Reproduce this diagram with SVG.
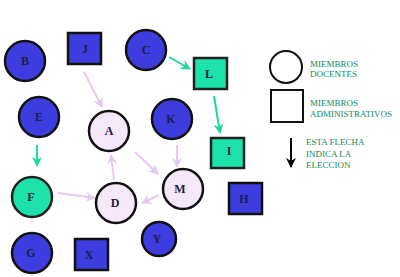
<svg xmlns="http://www.w3.org/2000/svg" width="400" height="277" viewBox="0 0 400 277">
<defs>
<style>
.blue{fill:#3d3ddf;stroke:#111;stroke-width:2.5}
.teal{fill:#1de3aa;stroke:#222;stroke-width:2.5}
.pale{fill:#f5e8f8;stroke:#111;stroke-width:2.5}
.lbl{font-family:"Liberation Serif",serif;font-weight:bold;font-size:12px;fill:#1c1c4a;text-anchor:middle}
.leg{font-family:"Liberation Serif",serif;font-size:9px;fill:#0f8a5a}
.pk{stroke:#e6c8f2;stroke-width:2;fill:none;marker-end:url(#mp)}
.gr{stroke:#20d89a;stroke-width:2;fill:none;marker-end:url(#mg)}
</style>
<marker id="mp" viewBox="0 0 10 10" refX="9" refY="5" markerWidth="5" markerHeight="5" orient="auto" markerUnits="strokeWidth">
<path d="M0,0 L10,5 L0,10 L3,5 z" fill="#e6c8f2"/>
</marker>
<marker id="mg" viewBox="0 0 10 10" refX="9" refY="5" markerWidth="5" markerHeight="5" orient="auto" markerUnits="strokeWidth">
<path d="M0,0 L10,5 L0,10 L3,5 z" fill="#20d89a"/>
</marker>
<marker id="mk" viewBox="0 0 10 10" refX="9" refY="5" markerWidth="5" markerHeight="5" orient="auto" markerUnits="strokeWidth">
<path d="M0,0 L10,5 L0,10 L3,5 z" fill="#000"/>
</marker>
</defs>
<rect width="400" height="277" fill="#fff"/>
<g id="connectors">
<line class="pk" x1="84" y1="72" x2="102" y2="107"/>
<line class="gr" x1="169" y1="57" x2="190" y2="69"/>
<line class="gr" x1="214" y1="96" x2="220" y2="133"/>
<line class="gr" x1="37" y1="145" x2="37" y2="166"/>
<line class="pk" x1="114" y1="180" x2="111" y2="155"/>
<line class="pk" x1="135" y1="152" x2="158" y2="174"/>
<line class="pk" x1="177" y1="145" x2="177" y2="167"/>
<line class="pk" x1="159" y1="195" x2="142" y2="203"/>
<line class="pk" x1="58" y1="193" x2="95" y2="198"/>
</g>
<g id="node-B"><circle class="blue" cx="25" cy="61" r="20"/><text class="lbl" x="25" y="65">B</text></g>
<g id="node-J"><rect class="blue" x="68" y="33" width="33" height="31"/><text class="lbl" x="85" y="53">J</text></g>
<g id="node-C"><circle class="blue" cx="146" cy="50" r="20"/><text class="lbl" x="146" y="54">C</text></g>
<g id="node-L"><rect class="teal" x="194" y="58" width="33" height="31"/><text class="lbl" x="209" y="78">L</text></g>
<g id="node-E"><circle class="blue" cx="39" cy="117" r="20"/><text class="lbl" x="39" y="121">E</text></g>
<g id="node-A"><circle class="pale" cx="109" cy="131" r="20"/><text class="lbl" x="109" y="135">A</text></g>
<g id="node-K"><circle class="blue" cx="172" cy="119" r="20"/><text class="lbl" x="171" y="123">K</text></g>
<g id="node-I"><rect class="teal" x="211" y="138" width="33" height="30"/><text class="lbl" x="229" y="155">I</text></g>
<g id="node-F"><circle class="teal" cx="32" cy="197" r="20"/><text class="lbl" x="31" y="201">F</text></g>
<g id="node-D"><circle class="pale" cx="116" cy="203" r="20"/><text class="lbl" x="115" y="207">D</text></g>
<g id="node-M"><circle class="pale" cx="183" cy="189" r="20"/><text class="lbl" x="180" y="193">M</text></g>
<g id="node-H"><rect class="blue" x="229" y="183" width="33" height="31"/><text class="lbl" x="244" y="203">H</text></g>
<g id="node-G"><circle class="blue" cx="32" cy="253" r="20"/><text class="lbl" x="31" y="257">G</text></g>
<g id="node-X"><rect class="blue" x="75" y="239" width="33" height="31"/><text class="lbl" x="89" y="259">X</text></g>
<g id="node-Y"><circle class="blue" cx="159" cy="239" r="17"/><text class="lbl" x="157" y="243">Y</text></g>
<g id="legend">
<circle cx="286" cy="67" r="16" fill="#fff" stroke="#111" stroke-width="2"/>
<text class="leg" x="310" y="67">MIEMBROS</text>
<text class="leg" x="310" y="77">DOCENTES</text>
<rect x="271" y="90" width="32" height="32" fill="#fff" stroke="#111" stroke-width="2"/>
<text class="leg" x="310" y="106">MIEMBROS</text>
<text class="leg" x="310" y="117">ADMINISTRATIVOS</text>
<line x1="291" y1="138" x2="291" y2="167" stroke="#000" stroke-width="2" marker-end="url(#mk)"/>
<text class="leg" x="306" y="145">ESTA FLECHA</text>
<text class="leg" x="306" y="157">INDICA LA</text>
<text class="leg" x="306" y="168">ELECCION</text>
</g>
</svg>
